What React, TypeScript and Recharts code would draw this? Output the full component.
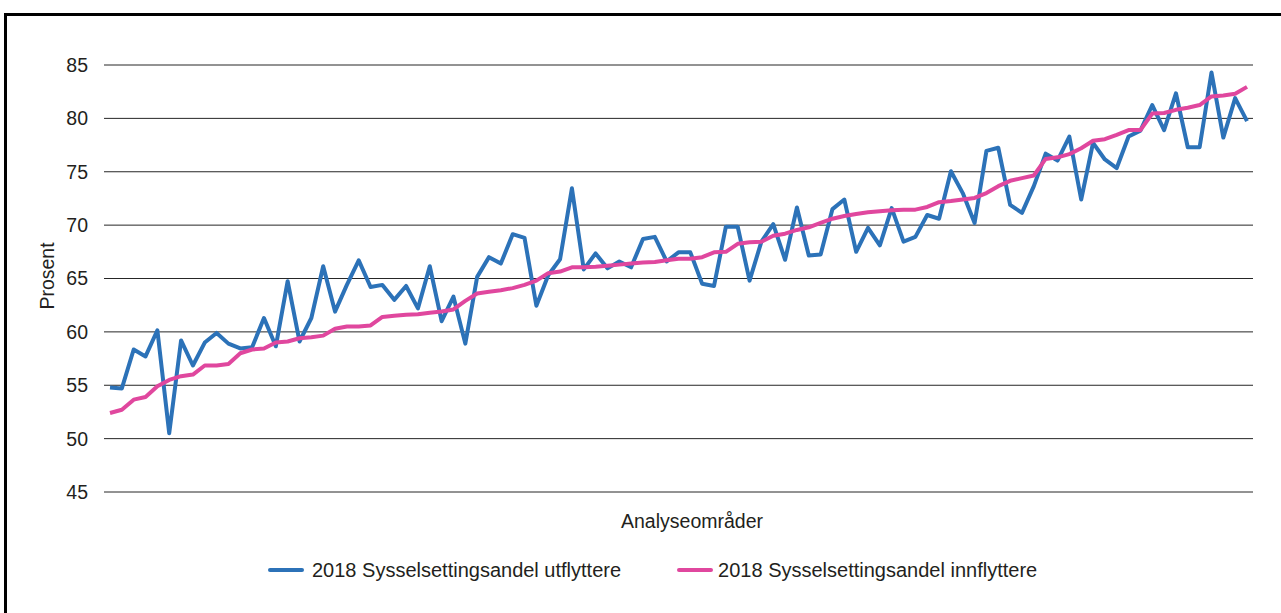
import { LineChart, Line, XAxis, YAxis, CartesianGrid, Legend } from "recharts";

// 2018 sysselsettingsandel per analyseområde (sortert etter innflyttere)
const utflyttere = [
  54.8, 54.7, 58.35, 57.7, 60.15, 50.5, 59.2, 56.85, 59.0, 59.9, 58.9, 58.45,
  58.55, 61.3, 58.65, 64.75, 59.1, 61.3, 66.15, 61.9, 64.4, 66.7, 64.2, 64.4,
  63.0, 64.3, 62.2, 66.15, 61.0, 63.3, 58.9, 65.15, 67.0, 66.4, 69.15, 68.8,
  62.45, 65.3, 66.8, 73.45, 65.85, 67.35, 65.95, 66.6, 66.05, 68.7, 68.9, 66.6,
  67.45, 67.45, 64.5, 64.3, 69.85, 69.85, 64.8, 68.45, 70.1, 66.75, 71.65,
  67.15, 67.25, 71.5, 72.4, 67.5, 69.75, 68.1, 71.6, 68.45, 68.9, 70.95, 70.6,
  75.05, 73.0, 70.2, 76.95, 77.25, 71.9, 71.15, 73.65, 76.7, 76.05, 78.3, 72.4,
  77.7, 76.15, 75.35, 78.3, 78.85, 81.25, 78.9, 82.35, 77.3, 77.3, 84.3, 78.2,
  81.9, 79.75,
];

const innflyttere = [
  52.4, 52.7, 53.65, 53.9, 54.9, 55.5, 55.85, 56.0, 56.85, 56.85, 57.0, 58.0,
  58.35, 58.45, 59.0, 59.1, 59.4, 59.5, 59.65, 60.3, 60.5, 60.5, 60.6, 61.4,
  61.5, 61.6, 61.65, 61.8, 61.9, 62.1, 62.9, 63.6, 63.75, 63.9, 64.1, 64.4,
  64.8, 65.5, 65.65, 66.05, 66.05, 66.1, 66.2, 66.3, 66.4, 66.5, 66.55, 66.7,
  66.85, 66.85, 67.0, 67.45, 67.5, 68.25, 68.4, 68.45, 69.0, 69.2, 69.55, 69.8,
  70.2, 70.6, 70.85, 71.05, 71.2, 71.3, 71.4, 71.45, 71.45, 71.7, 72.15, 72.25,
  72.4, 72.55, 73.0, 73.65, 74.15, 74.4, 74.65, 76.2, 76.35, 76.65, 77.2, 77.9,
  78.05, 78.45, 78.9, 78.9, 80.45, 80.5, 80.8, 81.0, 81.25, 82.05, 82.15, 82.3,
  82.95,
];

const omrader = utflyttere.map((_, i) => `Område ${i + 1}`);

const yTicks = [45, 50, 55, 60, 65, 70, 75, 80, 85];

const series = [
  { key: "utflyttere", name: "2018 Sysselsettingsandel utflyttere", color: "#2c72b8" },
  { key: "innflyttere", name: "2018 Sysselsettingsandel innflyttere", color: "#e0479e" },
];

const data = omrader.map((omrade, i) => ({
  omrade,
  utflyttere: utflyttere[i],
  innflyttere: innflyttere[i],
}));

const FONT = "'Liberation Sans', Arial, sans-serif";
const TEXT = "#231f20";

function LegendContent() {
  return (
    <div
      style={{
        display: "flex",
        alignItems: "center",
        paddingLeft: 268,
        height: 0,
        overflow: "visible",
      }}
    >
      {series.map((s, i) => (
        <span
          key={s.key}
          style={{
            display: "flex",
            alignItems: "center",
            marginRight: i === 0 ? 56 : 0,
            fontSize: 20,
            color: TEXT,
            whiteSpace: "nowrap",
          }}
        >
          <span
            style={{
              display: "inline-block",
              width: 36,
              height: 4,
              borderRadius: 2,
              background: s.color,
              marginRight: i === 0 ? 8 : 5,
            }}
          />
          {s.name}
        </span>
      ))}
    </div>
  );
}

export default function App() {
  return (
    <div
      style={{
        position: "absolute",
        left: 0,
        top: 0,
        width: 1281,
        height: 613,
        overflow: "hidden",
        background: "#fff",
        fontFamily: FONT,
      }}
    >
      <div
        style={{
          position: "absolute",
          left: 4,
          top: 13,
          width: 1400,
          height: 700,
          border: "3px solid #000",
          boxSizing: "border-box",
        }}
      />
      <div style={{ position: "absolute", left: 0, top: 0 }}>
        <LineChart
          width={1281}
          height={613}
          data={data}
          margin={{ top: 65, right: 28, bottom: 121, left: 44 }}
          style={{ fontFamily: FONT }}
        >
          <CartesianGrid vertical={false} stroke="#262626" strokeWidth={1} />
          <XAxis dataKey="omrade" hide padding={{ left: 6, right: 6 }} />
          <YAxis
            domain={[45, 85]}
            ticks={yTicks}
            width={60}
            axisLine={false}
            tickLine={false}
            tickSize={0}
            tickMargin={16}
            tick={{ fontSize: 19.5, fill: TEXT }}
          />
          <Legend
            content={<LegendContent />}
            wrapperStyle={{ left: 0, top: 570, width: 1281, height: 0, overflow: "visible" }}
          />
          {series.map((s) => (
            <Line
              key={s.key}
              type="linear"
              dataKey={s.key}
              name={s.name}
              stroke={s.color}
              strokeWidth={4}
              strokeLinejoin="round"
              dot={false}
              isAnimationActive={false}
            />
          ))}
        </LineChart>
      </div>
      <div
        style={{
          position: "absolute",
          left: 47,
          top: 276,
          transform: "translate(-50%, -50%) rotate(-90deg)",
          fontSize: 19.5,
          color: TEXT,
          whiteSpace: "nowrap",
        }}
      >
        Prosent
      </div>
      <div
        style={{
          position: "absolute",
          left: 692,
          top: 521,
          transform: "translate(-50%, -50%)",
          fontSize: 19.5,
          color: TEXT,
          whiteSpace: "nowrap",
        }}
      >
        Analyseområder
      </div>
    </div>
  );
}
